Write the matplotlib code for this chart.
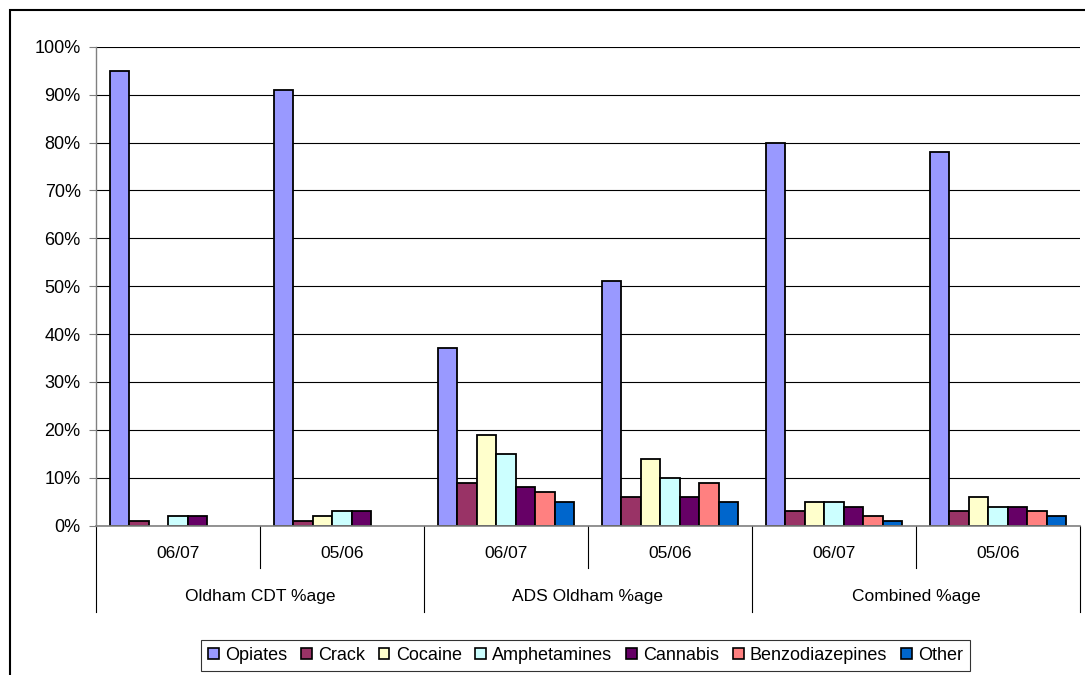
import matplotlib
matplotlib.use("Agg")
import matplotlib.pyplot as plt
from matplotlib.patches import Rectangle, Patch
from matplotlib.transforms import blended_transform_factory

plt.rcParams['font.family'] = ['Liberation Sans', 'DejaVu Sans']

# Drug categories (legend order) and their colours
drugs = ["Opiates", "Crack", "Cocaine", "Amphetamines", "Cannabis",
         "Benzodiazepines", "Other"]
colors = ["#9999FF", "#993366", "#FFFFCC", "#CCFFFF", "#660066",
          "#FF8080", "#0066CC"]

# Year labels and service groupings along the category axis
years = ["06/07", "05/06", "06/07", "05/06", "06/07", "05/06"]
services = ["Oldham CDT %age", "ADS Oldham %age", "Combined %age"]

# Percentage of clients per drug, one list per drug, one value per year column
opiates = [95, 91, 37, 51, 80, 78]
crack = [1, 1, 9, 6, 3, 3]
cocaine = [0, 2, 19, 14, 5, 6]
amphetamines = [2, 3, 15, 10, 5, 4]
cannabis = [2, 3, 8, 6, 4, 4]
benzodiazepines = [0, 0, 7, 9, 2, 3]
other = [0, 0, 5, 5, 1, 2]
series = [opiates, crack, cocaine, amphetamines, cannabis, benzodiazepines, other]

W, H = 1085, 675
fig = plt.figure(figsize=(W / 100, H / 100), dpi=100)

# plot area in pixel terms
left_px, right_px, top_px, zero_px = 96, 1080, 46.7, 525.7
ax = fig.add_axes([left_px / W, 1 - zero_px / H,
                   (right_px - left_px) / W, (zero_px - top_px) / H])

n_cat = len(years)
bw = 0.119
for j, (vals, col) in enumerate(zip(series, colors)):
    xs = [i + 0.5 + (j - 3) * bw for i in range(n_cat)]
    bars = ax.bar(xs, vals, width=bw, color=col, edgecolor="black",
                  linewidth=1.3, zorder=3)
    for b, v in zip(bars, vals):
        if v == 0:
            b.set_visible(False)

ax.set_xlim(0, n_cat)
ax.set_ylim(0, 100)
ax.set_yticks(range(0, 101, 10))
ax.set_yticklabels([f"{v}%" for v in range(0, 101, 10)], fontsize=13)
ax.yaxis.grid(True, color="black", linewidth=0.8, zorder=0)
ax.tick_params(axis="y", length=5, width=0.8, color="#808080", pad=6)
ax.set_xticks([])
for s in ("top", "right"):
    ax.spines[s].set_visible(False)
ax.spines["left"].set_color("#808080")
ax.spines["bottom"].set_color("#808080")
ax.spines["left"].set_linewidth(1.0)
ax.spines["bottom"].set_linewidth(1.2)
ax.spines["bottom"].set_zorder(4)

# multi-level category axis
axh = zero_px - top_px
trans = blended_transform_factory(ax.transData, ax.transAxes)
short = -(568 - zero_px) / axh
long_ = -(612 - zero_px) / axh
for i in range(n_cat + 1):
    y1 = long_ if i % 2 == 0 else short
    ax.plot([i, i], [0, y1], transform=trans, color="black",
            linewidth=0.8, clip_on=False)
for i, yr in enumerate(years):
    ax.text(i + 0.5, -(553 - zero_px) / axh, yr, transform=trans,
            ha="center", va="center", fontsize=12.5)
for k, sv in enumerate(services):
    ax.text(2 * k + 1, -(597 - zero_px) / axh, sv, transform=trans,
            ha="center", va="center", fontsize=12.5)

# outer chart frame
fig.patches.append(Rectangle((10 / W, -0.1), 1.2, 1 - 10 / H + 0.1,
                             transform=fig.transFigure, fill=False,
                             edgecolor="black", linewidth=1.5))

handles = [Patch(facecolor=c, edgecolor="black", linewidth=1.2, label=d)
           for c, d in zip(colors, drugs)]
leg = fig.legend(handles=handles, loc="center",
                 bbox_to_anchor=(585.5 / W, 1 - 655.5 / H),
                 ncol=7, fontsize=13, frameon=True, fancybox=False,
                 edgecolor="black", handlelength=0.6, handleheight=0.6,
                 handletextpad=0.35, columnspacing=0.75, borderpad=0.4)
leg.get_frame().set_linewidth(0.8)

fig.savefig("out.png", dpi=100)
